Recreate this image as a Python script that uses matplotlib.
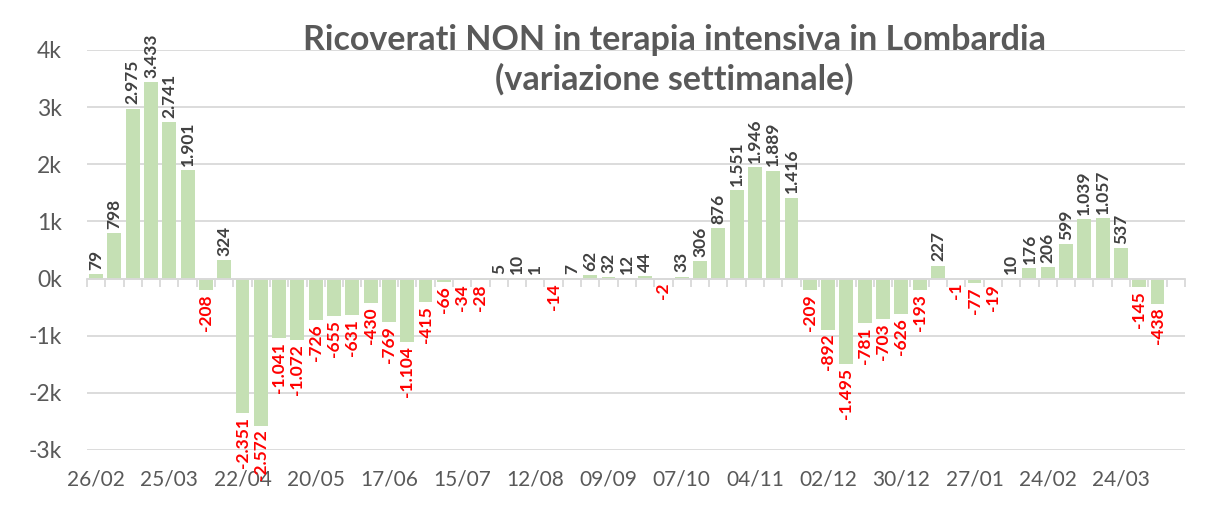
""" Weekly change of non-ICU hospitalised patients in Lombardy """

import numpy as np
import matplotlib
import matplotlib.pyplot as plt
from matplotlib.ticker import FuncFormatter

matplotlib.use('Agg')

# first week of each 4-week block (tick labels)
TICK_LABELS = ["26/02", "25/03", "22/04", "20/05", "17/06", "15/07", "12/08",
               "09/09", "07/10", "04/11", "02/12", "30/12", "27/01", "24/02", "24/03"]

# weekly variation, last category has no value yet
VALUES = [79, 798, 2975, 3433, 2741, 1901, -208, 324, -2351, -2572,
          -1041, -1072, -726, -655, -631, -430, -769, -1104, -415, -66,
          -34, -28, 5, 10, 1, -14, 7, 62, 32, 12,
          44, -2, 33, 306, 876, 1551, 1946, 1889, 1416, -209,
          -892, -1495, -781, -703, -626, -193, 227, -1, -77, -19,
          10, 176, 206, 599, 1039, 1057, 537, -145, -438, np.nan]

Y_TICKS = [-3000, -2000, -1000, 0, 1000, 2000, 3000, 4000]

TITLE = "Ricoverati NON in terapia intensiva in Lombardia\n(variazione settimanale)"

GREEN = "#c5e0b4"
GREY = "#595959"
GRID = "#d9d9d9"

plt.rcParams['font.family'] = ['Lato', 'DejaVu Sans']


def fmt_it(v: float) -> str:
    """ Format integer with Italian thousands separator """
    return f"{int(v):,}".replace(",", ".")


def make_chart() -> None:
    """ Draws the bar chart and saves it in out.png """
    fig = plt.figure(figsize=(12.11, 5.05), dpi=100)
    ax = fig.add_axes([0.0718, 0.109, 0.9067, 0.792])

    x = np.arange(len(VALUES))
    ax.bar(x, VALUES, width=0.76, color=GREEN, zorder=2)

    for xi, v in zip(x, VALUES):
        if np.isnan(v):
            continue
        if v >= 0:
            ax.annotate(fmt_it(v), (xi, v), xytext=(0, 3), textcoords="offset points",
                        rotation=90, ha="center", va="bottom", fontsize=12.5,
                        fontweight="bold", color="#404040", zorder=4, annotation_clip=False)
        else:
            ax.annotate(fmt_it(v), (xi, v), xytext=(0, -3), textcoords="offset points",
                        rotation=90, ha="center", va="top", fontsize=12.5,
                        fontweight="bold", color="red", zorder=4, annotation_clip=False)

    ax.set_xlim(-0.5, len(VALUES) - 0.5)
    ax.set_ylim(-3000, 4000)
    ax.set_yticks(Y_TICKS)
    ax.yaxis.set_major_formatter(FuncFormatter(lambda v, _: f"{int(v / 1000)}k"))
    ax.tick_params(axis="y", length=0, pad=18, labelsize=16.5, labelcolor=GREY)
    ax.grid(axis="y", color=GRID, linewidth=1.3, zorder=0)

    for side in ["left", "right", "top"]:
        ax.spines[side].set_visible(False)
    ax.spines["bottom"].set_position(("data", 0))
    ax.spines["bottom"].set_color(GRID)
    ax.spines["bottom"].set_linewidth(1.3)
    ax.spines["bottom"].set_zorder(3)

    # small tick marks between categories on the zero line
    ax.set_xticks(np.arange(len(VALUES) + 1) - 0.5)
    ax.set_xticklabels([])
    ax.tick_params(axis="x", direction="out", length=6, width=1.3, color=GRID)

    # date labels at the bottom of the plot area
    sec = ax.secondary_xaxis("bottom")
    sec.set_xticks(x[::4][:len(TICK_LABELS)])
    sec.set_xticklabels(TICK_LABELS)
    sec.tick_params(length=0, pad=14, labelsize=15, labelcolor=GREY)
    sec.spines["bottom"].set_visible(False)

    fig.text(0.557, 0.952, TITLE, ha="center", va="top", fontsize=24.5,
             fontweight="bold", color=GREY, linespacing=1.27)

    fig.savefig("out.png", dpi=100)
    plt.close(fig)


make_chart()
